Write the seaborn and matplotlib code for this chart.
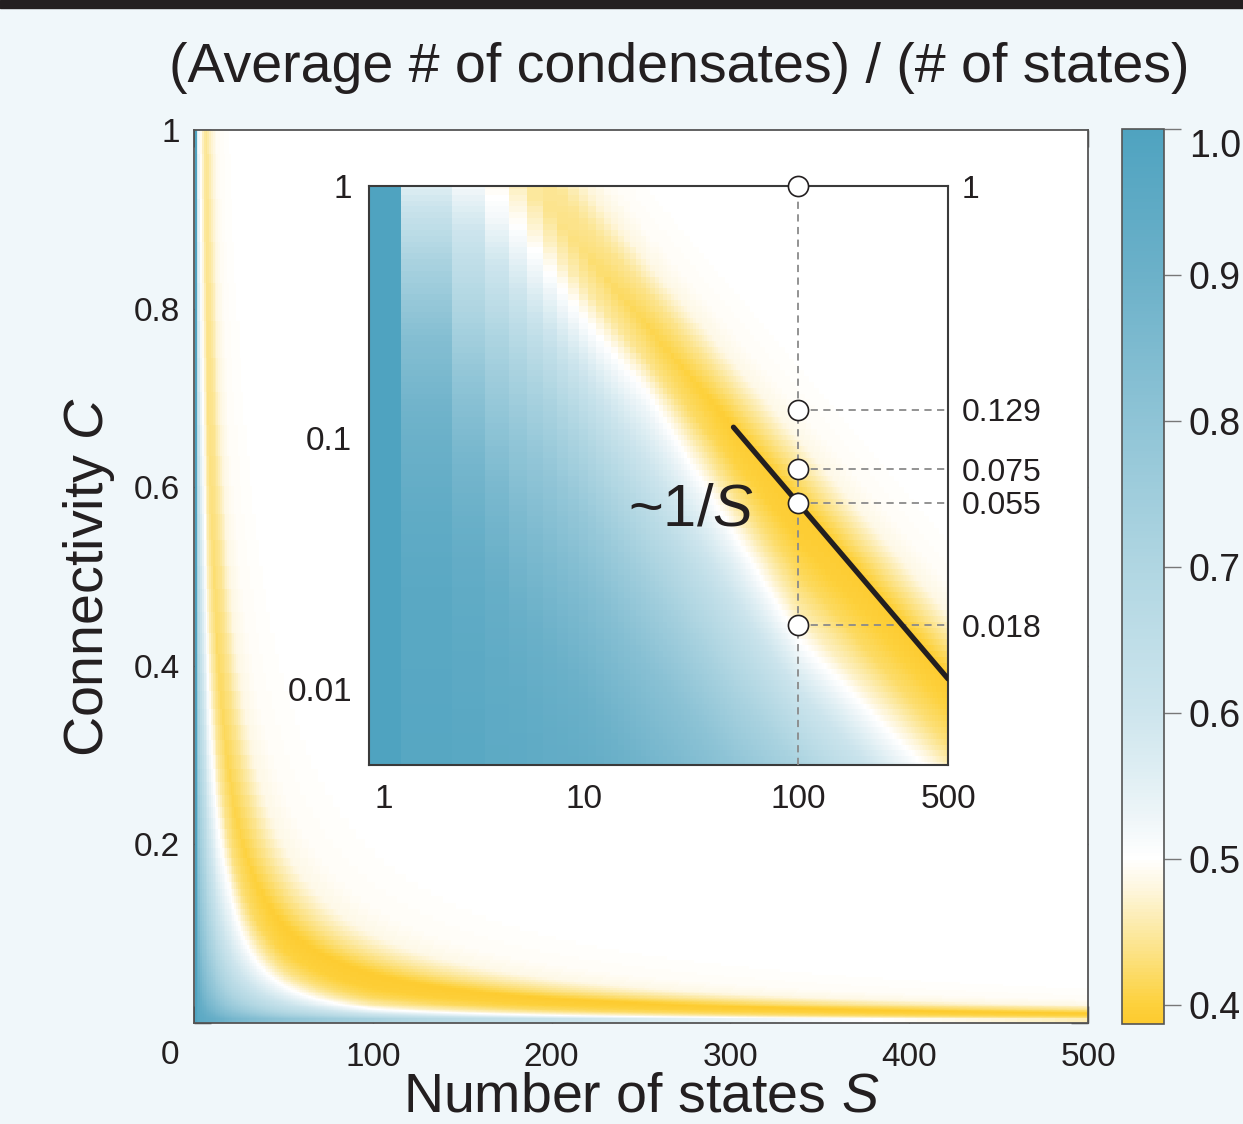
import numpy as np
import matplotlib
matplotlib.use("Agg")
import matplotlib.pyplot as plt
import matplotlib.transforms as mtransforms
import seaborn as sns
from matplotlib.colors import LinearSegmentedColormap
from matplotlib.patches import Rectangle
from matplotlib.ticker import NullFormatter, NullLocator, FixedLocator

# ---------------------------------------------------------------- data
n_states = np.arange(1, 501)                                # S
connectivity = np.logspace(np.log10(0.005), 0.0, 100)       # C

# Ratio (average # of condensates)/(# of states), tabulated against the
# number of states S (rows) and the mean number of links k = S*C (columns).
table_S = [1, 2, 3, 4, 5, 7, 10, 20, 50, 100, 200, 500]
table_k = [0.005, 0.05, 0.1, 0.25, 0.5, 1.0, 1.5, 2.0, 2.5, 3.0,
           4.0, 5.5, 7.5, 10.0, 13.0, 20.0, 50.0, 500.0]
ratio_S1 = [1.00, 1.00, 1.00, 1.00, 1.00, 1.00, 1.00, 1.00, 1.00, 1.00,
            1.00, 1.00, 1.00, 1.00, 1.00, 1.00, 1.00, 1.00]
ratio_S2 = [0.98, 0.96, 0.94, 0.89, 0.83, 0.72, 0.63, 0.56, 0.53, 0.51,
            0.49, 0.47, 0.47, 0.485, 0.495, 0.50, 0.50, 0.50]
ratio_S3 = [0.98, 0.95, 0.93, 0.87, 0.80, 0.70, 0.645, 0.60, 0.555, 0.52,
            0.49, 0.46, 0.46, 0.48, 0.492, 0.50, 0.50, 0.50]
ratio_S4 = [0.97, 0.94, 0.92, 0.86, 0.79, 0.71, 0.64, 0.595, 0.55, 0.52,
            0.49, 0.46, 0.46, 0.48, 0.492, 0.50, 0.50, 0.50]
ratio_S5 = [0.97, 0.94, 0.91, 0.85, 0.79, 0.71, 0.645, 0.59, 0.55, 0.52,
            0.485, 0.455, 0.45, 0.475, 0.49, 0.50, 0.50, 0.50]
ratio_S7 = [0.97, 0.93, 0.905, 0.845, 0.79, 0.71, 0.645, 0.585, 0.54, 0.51,
            0.47, 0.44, 0.445, 0.475, 0.49, 0.50, 0.50, 0.50]
ratio_S10 = [0.96, 0.93, 0.90, 0.84, 0.78, 0.70, 0.635, 0.58, 0.53, 0.50,
             0.455, 0.43, 0.445, 0.475, 0.492, 0.50, 0.50, 0.50]
ratio_S20 = [0.96, 0.92, 0.88, 0.82, 0.75, 0.67, 0.61, 0.565, 0.53, 0.50,
             0.44, 0.41, 0.44, 0.483, 0.495, 0.50, 0.50, 0.50]
ratio_S50 = [0.95, 0.90, 0.87, 0.80, 0.72, 0.63, 0.56, 0.51, 0.47, 0.44,
             0.405, 0.392, 0.44, 0.485, 0.495, 0.50, 0.50, 0.50]
ratio_S100 = [0.95, 0.90, 0.86, 0.80, 0.72, 0.60, 0.51, 0.46, 0.435, 0.415,
              0.395, 0.39, 0.44, 0.485, 0.495, 0.50, 0.50, 0.50]
ratio_S200 = [0.95, 0.90, 0.86, 0.80, 0.72, 0.62, 0.53, 0.475, 0.445, 0.42,
              0.40, 0.389, 0.44, 0.485, 0.495, 0.50, 0.50, 0.50]
ratio_S500 = [0.95, 0.90, 0.86, 0.80, 0.72, 0.63, 0.55, 0.50, 0.46, 0.432,
              0.405, 0.387, 0.437, 0.483, 0.495, 0.50, 0.50, 0.50]

# ~1/S guide line and the marked connectivities at S = 100
guide_S = [50, 500]
guide_C = [0.11, 0.011]
marked_S = 100
marked_C = [1.0, 0.129, 0.075, 0.055, 0.018]
marked_labels = ["1", "0.129", "0.075", "0.055", "0.018"]

# colour scale of the ratio
cbar_ticks = [0.4, 0.5, 0.6, 0.7, 0.8, 0.9, 1.0]
vmin, vmax = 0.387, 1.0
cmap_stops = [(0.387, "#fdcb2f"), (0.40, "#fdd13d"), (0.42, "#fcdb66"),
              (0.45, "#fce9a3"), (0.48, "#fef7e0"), (0.50, "#ffffff"),
              (0.53, "#edf5f8"), (0.56, "#deeef3"), (0.60, "#cde5ed"),
              (0.70, "#b0d6e2"), (0.80, "#8fc4d6"), (0.90, "#6cb1c9"),
              (1.00, "#4fa3c0")]

# ---------------------------------------------------------------- grid
rows = np.array([ratio_S1, ratio_S2, ratio_S3, ratio_S4, ratio_S5, ratio_S7,
                 ratio_S10, ratio_S20, ratio_S50, ratio_S100, ratio_S200,
                 ratio_S500])
logS_tab = np.log10(table_S)
logk_tab = np.log10(table_k)
Z = np.empty((len(connectivity), len(n_states)))
for j, s in enumerate(n_states):
    lk = np.log10(s * connectivity)
    prof = np.array([np.interp(lk, logk_tab, r) for r in rows])
    ls = np.log10(s)
    i = min(np.searchsorted(logS_tab, ls, side="right") - 1, len(table_S) - 2)
    t = (ls - logS_tab[i]) / (logS_tab[i + 1] - logS_tab[i])
    Z[:, j] = (1 - t) * prof[i] + t * prof[i + 1]

# cell edges: linear axes and log axes
S_edges_lin = np.arange(0.5, 501.0, 1.0)
C_mid = np.sqrt(connectivity[:-1] * connectivity[1:])
C_edges_lin = np.concatenate([[0.0], C_mid, [1.0]])
S_mid = np.sqrt(n_states[:-1] * n_states[1:])
S_edges_log = np.concatenate([[n_states[0] / np.sqrt(2)], S_mid, [n_states[-1] * 1.001]])
step = connectivity[1] / connectivity[0]
C_edges_log = np.concatenate([[connectivity[0] / np.sqrt(step)], C_mid,
                              [connectivity[-1] * np.sqrt(step)]])

cmap = LinearSegmentedColormap.from_list(
    "cond", [((v - vmin) / (vmax - vmin), c) for v, c in cmap_stops])

# ---------------------------------------------------------------- style
sns.set_theme(style="ticks")
BG = "#f0f7fa"
INK = "#231f20"
plt.rcParams["font.family"] = ["Liberation Sans", "DejaVu Sans"]
plt.rcParams["mathtext.fontset"] = "custom"
plt.rcParams["mathtext.rm"] = "Liberation Sans"
plt.rcParams["mathtext.it"] = "Liberation Sans:italic"
plt.rcParams["text.color"] = INK
plt.rcParams["axes.labelcolor"] = INK
plt.rcParams["xtick.color"] = "#333333"
plt.rcParams["ytick.color"] = "#333333"
plt.rcParams["xtick.labelcolor"] = INK
plt.rcParams["ytick.labelcolor"] = INK

W, H = 1243, 1124
fig = plt.figure(figsize=(W / 100, H / 100), dpi=100, facecolor=BG)
fig.add_artist(Rectangle((0, 1 - 8 / H), 1, 8 / H, transform=fig.transFigure,
                         color=INK, zorder=10))

ax = fig.add_axes([194 / W, 1 - 1023 / H, 894 / W, 893 / H])
cax = fig.add_axes([1122 / W, 1 - 1024 / H, 42 / W, 895 / H])
axin = fig.add_axes([369 / W, 1 - 765 / H, 579 / W, 579 / H])

# ---------------------------------------------------------------- main panel
mesh = ax.pcolormesh(S_edges_lin, C_edges_lin, Z, cmap=cmap, vmin=vmin,
                     vmax=vmax, shading="flat", edgecolors="none", rasterized=True)
ax.set_xlim(0, 500)
ax.set_ylim(0, 1)
ax.set_xticks([0, 100, 200, 300, 400, 500])
ax.set_xticklabels(["", "100", "200", "300", "400", "500"])
ax.set_yticks([0, 0.2, 0.4, 0.6, 0.8, 1.0])
ax.set_yticklabels(["", "0.2", "0.4", "0.6", "0.8", "1"])
ax.tick_params(direction="in", length=12, width=1, top=True, right=True,
               labelsize=24)
ax.tick_params(axis="x", pad=14)
ax.tick_params(axis="y", pad=10)
ax.text(-0.016, -0.036, "0", transform=ax.transAxes, ha="right", va="center",
        fontsize=24)
for sp in ax.spines.values():
    sp.set_color("#555555")
    sp.set_linewidth(1.3)
ax.set_ylabel("Connectivity $C$", fontsize=40, labelpad=12)
fig.text(641 / W, 1 - 1123 / H, "Number of states $S$", ha="center",
         va="bottom", fontsize=40)

# ---------------------------------------------------------------- colour bar
cb = fig.colorbar(mesh, cax=cax, ticks=cbar_ticks, format="%.1f")
cb.outline.set_edgecolor("#555555")
cb.outline.set_linewidth(1.2)
cax.tick_params(direction="out", length=12, width=1, color="#777777",
                labelsize=27, pad=6)
# keep the top label inside the bar's height
top_lab = cax.get_yticklabels()[-1]
top_lab.set_transform(top_lab.get_transform() +
                      mtransforms.ScaledTranslation(0, -14 / 100, fig.dpi_scale_trans))

# ---------------------------------------------------------------- inset
axin.pcolormesh(S_edges_log, C_edges_log, Z, cmap=cmap, vmin=vmin, vmax=vmax,
                shading="flat", edgecolors="none", rasterized=True)
axin.set_xscale("log")
axin.set_yscale("log")
axin.set_xlim(1, 500)
axin.set_ylim(0.005, 1)
axin.xaxis.set_major_locator(FixedLocator([1, 10, 100, 500]))
axin.set_xticklabels(["1", "10", "100", "500"])
axin.xaxis.set_minor_locator(FixedLocator([2, 3, 4, 5, 6, 7, 8, 9, 20, 30, 40,
                                           50, 60, 70, 80, 90, 200, 300, 400]))
axin.xaxis.set_minor_formatter(NullFormatter())
axin.yaxis.set_major_locator(FixedLocator([0.01, 0.1, 1]))
axin.set_yticklabels(["0.01", "0.1", "1"])
axin.yaxis.set_minor_locator(FixedLocator(
    [0.006, 0.007, 0.008, 0.009, 0.02, 0.03, 0.04, 0.05, 0.06, 0.07, 0.08,
     0.09, 0.2, 0.3, 0.4, 0.5, 0.6, 0.7, 0.8, 0.9]))
axin.yaxis.set_minor_formatter(NullFormatter())
axin.tick_params(which="major", direction="in", length=10, width=1.2,
                 top=True, right=True, labelsize=24)
axin.tick_params(which="minor", direction="in", length=5, width=1,
                 top=True, right=True)
axin.tick_params(axis="x", which="major", pad=14)
axin.tick_params(axis="y", which="major", pad=12)
for sp in axin.spines.values():
    sp.set_color("#3a3a3a")
    sp.set_linewidth(1.5)
first_lab = axin.get_xticklabels()[0]
first_lab.set_transform(first_lab.get_transform() +
                        mtransforms.ScaledTranslation(15 / 100, 0, fig.dpi_scale_trans))

# guides at S = 100
axin.vlines(marked_S, 0.005, 1.0, colors="#8a8a8a", linestyles=(0, (4, 3)),
            linewidth=1.3, zorder=3)
axin.hlines(marked_C[1:], marked_S, 500, colors="#8a8a8a",
            linestyles=(0, (4, 3)), linewidth=1.3, zorder=3)
sns.lineplot(x=guide_S, y=guide_C, ax=axin, color=INK, linewidth=3.8,
             zorder=4, legend=False)
sns.scatterplot(x=[marked_S] * len(marked_C), y=marked_C, ax=axin, s=210,
                color="white", edgecolor=INK, linewidth=1.2, zorder=6,
                clip_on=False, legend=False)
axin.set_xlabel("")
axin.set_ylabel("")
axin.text(0.556, 0.44, "~1/$S$", transform=axin.transAxes, ha="center",
          va="center", fontsize=43, zorder=5)

# right-hand labels for the marked connectivities
axr = axin.twinx()
axr.set_yscale("log")
axr.set_ylim(0.005, 1)
axr.yaxis.set_major_locator(FixedLocator(marked_C))
axr.set_yticklabels(marked_labels)
axr.yaxis.set_minor_locator(NullLocator())
axr.tick_params(axis="y", length=0, pad=10, labelsize=23)
for sp in axr.spines.values():
    sp.set_visible(False)

fig.text(679 / W, 1 - 68 / H, "(Average # of condensates) / (# of states)",
         ha="center", va="center", fontsize=40)

fig.savefig("out.png", dpi=100, facecolor=BG)
